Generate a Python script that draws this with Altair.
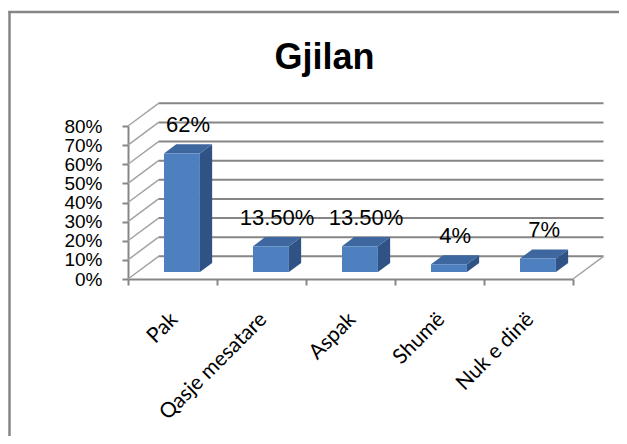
import altair as alt
import pandas as pd

# ---- data ----
categories = ["Pak", "Qasje mesatare", "Aspak", "Shumë", "Nuk e dinë"]
values = [62, 13.5, 13.5, 4, 7]
value_labels = ["62%", "13.50%", "13.50%", "4%", "7%"]
y_ticks = [0, 10, 20, 30, 40, 50, 60, 70, 80]
title_text = "Gjilan"

# ---- 3D projection style constants (data units) ----
DU = 0.343    # depth shift along x (category units)
DV = 11.87    # depth shift along y (percent units)
FRONT = 0.31  # depth of bar front face
DEPTH = 0.40  # bar depth
HALF = 0.202  # half bar width
LABEL_GAP = 14.9

GRAY = "#868686"
FRONT_C = "#4e80bf"
SIDE_C = "#2f5384"
TOP_C = "#3d679e"

xs = alt.Scale(domain=[0, len(categories)], nice=False, zero=False)
ys = alt.Scale(domain=[0, 80], nice=False, zero=False)

y_axis = alt.Axis(
    values=y_ticks, labelExpr="datum.value + '%'", grid=False,
    domainColor=GRAY, domainWidth=2, tickColor=GRAY, tickWidth=2, tickSize=6,
    labelFont="Liberation Sans", labelFontSize=19, labelColor="black",
    labelPadding=20, labelOverlap=False, labelBound=False, labelFlush=False,
    title=None)
x_axis = alt.Axis(
    values=list(range(len(categories) + 1)), labels=False, grid=False,
    domainColor=GRAY, domainWidth=2, tickColor=GRAY, tickWidth=2, tickSize=6,
    title=None)


def X(f):
    return alt.X(f, scale=xs, axis=x_axis)


def Y(f):
    return alt.Y(f, scale=ys, axis=y_axis)


# back wall grid lines
grid = pd.DataFrame({"v": y_ticks})
grid["y"] = grid["v"] + DV
grid["x"] = DU
grid["x2"] = len(categories) + DU
grid["x0"] = 0.0

back = alt.Chart(grid).mark_rule(color=GRAY, strokeWidth=2).encode(
    x=X("x:Q"), x2="x2:Q", y=Y("y:Q"),
)

side_wall = alt.Chart(grid).mark_rule(color="#a3a3a3", strokeWidth=1.5).encode(
    x=X("x0:Q"), x2="x:Q", y=Y("v:Q"), y2="y:Q",
)

floor_df = pd.DataFrame({"x": [float(len(categories))], "x2": [len(categories) + DU],
                         "y": [0.0], "y2": [DV]})
floor_right = alt.Chart(floor_df).mark_rule(color="#a3a3a3", strokeWidth=1.5).encode(
    x=X("x:Q"), x2="x2:Q", y=Y("y:Q"), y2="y2:Q",
)

# bars
rows = []
side_rows = []
top_rows = []
for i, (c, v, lab) in enumerate(zip(categories, values, value_labels)):
    cx = i + 0.5 + FRONT * DU
    xl, xr = cx - HALF, cx + HALF
    base = FRONT * DV
    rows.append({"cat": c, "xl": xl, "xr": xr, "lo": base, "hi": base + v,
                 "lx": cx + DEPTH * DU / 2, "ly": base + v + LABEL_GAP, "label": lab,
                 "cx": i + 0.5})
    side_rows.append({"cat": c, "x": xr, "lo": base, "hi": base + v})
    side_rows.append({"cat": c, "x": xr + DEPTH * DU, "lo": base + DEPTH * DV,
                      "hi": base + DEPTH * DV + v})
    top_rows.append({"cat": c, "y": base + v, "xl": xl, "xr": xr})
    top_rows.append({"cat": c, "y": base + v + DEPTH * DV, "xl": xl + DEPTH * DU,
                     "xr": xr + DEPTH * DU})
bars = pd.DataFrame(rows)
side = pd.DataFrame(side_rows)
top = pd.DataFrame(top_rows)

side_face = alt.Chart(side).mark_area(orient="vertical", color=SIDE_C).encode(
    x=X("x:Q"), y=Y("lo:Q"), y2="hi:Q", detail="cat:N",
)
top_face = alt.Chart(top).mark_area(orient="horizontal", color=TOP_C).encode(
    y=Y("y:Q"), x=X("xl:Q"), x2="xr:Q", detail="cat:N",
)
front_face = alt.Chart(bars).mark_rect(color=FRONT_C).encode(
    x=X("xl:Q"), x2="xr:Q", y=Y("lo:Q"), y2="hi:Q",
)

value_text = alt.Chart(bars).mark_text(
    font="Liberation Sans", fontSize=22, color="black", baseline="middle", align="center"
).encode(
    x=X("lx:Q"), y=Y("ly:Q"), text="label:N",
)

cat_text = alt.Chart(bars).mark_text(
    font="Lato", fontSize=21, color="black", angle=315, align="right",
    baseline="alphabetic", dx=-25, dy=34
).encode(
    x=X("cx:Q"), y=alt.value(153), text="cat:N",
)

title = alt.Chart(pd.DataFrame({"t": [title_text]})).mark_text(
    font="Liberation Sans", fontWeight="bold", fontSize=36, color="black",
    baseline="alphabetic", align="center"
).encode(x=alt.value(196.5), y=alt.value(-57.5), text="t:N")

border_l = alt.Chart(pd.DataFrame({"a": [0]})).mark_rule(color=GRAY, strokeWidth=2.5).encode(
    x=alt.value(-118.5), y=alt.value(-115), y2=alt.value(310))
border_t = alt.Chart(pd.DataFrame({"a": [0]})).mark_rule(color=GRAY, strokeWidth=2.5).encode(
    x=alt.value(-119.7), x2=alt.value(500), y=alt.value(-114))

chart = alt.layer(
    border_l, border_t, back, side_wall, floor_right,
    side_face, top_face, front_face, value_text, cat_text, title
).properties(
    width=445, height=153,
    autosize=alt.AutoSizeParams(type="none"),
    padding={"left": 120, "top": 118, "right": 46, "bottom": 157},
).configure_view(stroke=None)

chart.save("out.html", embed_options={"renderer": "svg", "actions": False})
